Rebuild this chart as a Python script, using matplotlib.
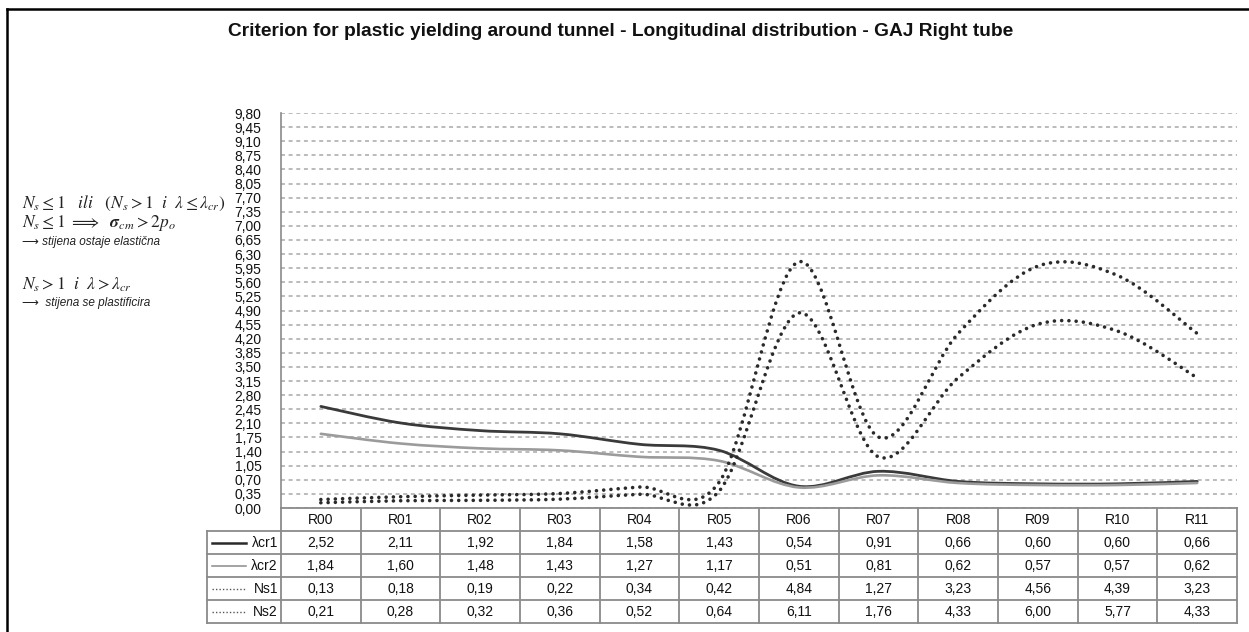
import numpy as np
import matplotlib
matplotlib.use("Agg")
import matplotlib.pyplot as plt
from matplotlib.path import Path
from matplotlib.patches import PathPatch
from matplotlib.lines import Line2D
from matplotlib.ticker import FuncFormatter

# ---- data -------------------------------------------------------------
stations = ["R00", "R01", "R02", "R03", "R04", "R05",
            "R06", "R07", "R08", "R09", "R10", "R11"]
lam_cr1 = [2.52, 2.11, 1.92, 1.84, 1.58, 1.43, 0.54, 0.91, 0.66, 0.60, 0.60, 0.66]
lam_cr2 = [1.84, 1.60, 1.48, 1.43, 1.27, 1.17, 0.51, 0.81, 0.62, 0.57, 0.57, 0.62]
ns1 = [0.13, 0.18, 0.19, 0.22, 0.34, 0.42, 4.84, 1.27, 3.23, 4.56, 4.39, 3.23]
ns2 = [0.21, 0.28, 0.32, 0.36, 0.52, 0.64, 6.11, 1.76, 4.33, 6.00, 5.77, 4.33]
series_names = ["λcr1", "λcr2", "Ns1", "Ns2"]
y_max = 9.80
y_step = 0.35
title = ("Criterion for plastic yielding around tunnel - "
         "Longitudinal distribution - GAJ Right tube")

series = [lam_cr1, lam_cr2, ns1, ns2]

# ---- styles -----------------------------------------------------------
styles = [
    dict(color="#3a3a3a", lw=2.0, ls="solid"),
    dict(color="#9b9b9b", lw=1.9, ls="solid"),
    dict(color="#2a2a2a", lw=2.6, ls=(0, (0.01, 2.0))),
    dict(color="#2a2a2a", lw=2.6, ls=(0, (0.01, 2.0))),
]
key_styles = [
    dict(color="#2a2a2a", lw=1.8, ls="solid"),
    dict(color="#8a8a8a", lw=1.1, ls="solid"),
    dict(color="#555555", lw=1.0, ls=(0, (1, 1.5))),
    dict(color="#555555", lw=1.0, ls=(0, (1, 1.5))),
]
FONT = "Liberation Sans"
GRID_GRAY = "#a8a8a8"
LINE_GRAY = "#8a8a8a"

W, H = 1249, 632
fig = plt.figure(figsize=(W / 100, H / 100), dpi=100)
fig.patch.set_facecolor("white")


def fx(x):
    return x / W


def fy(y):
    return 1 - y / H


# outer frame of the chart area
fig.add_artist(Line2D([fx(7), fx(7)], [fy(9), fy(640)], color="black", lw=1.8,
                      transform=fig.transFigure))
fig.add_artist(Line2D([fx(7), fx(1260)], [fy(9), fy(9)], color="black", lw=1.8,
                      transform=fig.transFigure))

# ---- plot area --------------------------------------------------------
PLOT_L, PLOT_R, PLOT_T, PLOT_B = 281, 1237, 113, 508
ax = fig.add_axes([fx(PLOT_L), fy(PLOT_B),
                   (PLOT_R - PLOT_L) / W, (PLOT_B - PLOT_T) / H])
n = len(stations)
ax.set_xlim(0, n)
ax.set_ylim(0, y_max)
n_ticks = int(round(y_max / y_step))
ax.set_yticks([k * y_step for k in range(n_ticks + 1)])
ax.yaxis.set_major_formatter(FuncFormatter(lambda v, p: f"{v:.2f}".replace(".", ",")))
ax.tick_params(axis="y", length=0, pad=14, labelsize=10, labelcolor="#111111")
for lbl in ax.get_yticklabels():
    lbl.set_fontfamily(FONT)
ax.set_xticks([])
ax.grid(axis="y", color=GRID_GRAY, linestyle=(0, (2.6, 2.4)), linewidth=1.1)
ax.set_axisbelow(True)
for side in ("top", "right", "bottom"):
    ax.spines[side].set_visible(False)
ax.spines["left"].set_color(LINE_GRAY)
ax.spines["left"].set_linewidth(1.2)


def smooth_path(xs, ys):
    """Cubic Bezier path through the points (Catmull-Rom style smoothing)."""
    pts = np.column_stack([xs, ys]).astype(float)
    ext = np.vstack([pts[0], pts, pts[-1]])
    verts = [pts[0]]
    codes = [Path.MOVETO]
    for i in range(len(pts) - 1):
        p0, p1, p2, p3 = ext[i], ext[i + 1], ext[i + 2], ext[i + 3]
        verts += [p1 + (p2 - p0) / 6.0, p2 - (p3 - p1) / 6.0, p2]
        codes += [Path.CURVE4] * 3
    return Path(verts, codes)


xs = np.arange(n) + 0.5
for vals, st in zip(series, styles):
    patch = PathPatch(smooth_path(xs, vals), fill=False, edgecolor=st["color"],
                      linewidth=st["lw"], linestyle=st["ls"], capstyle="round",
                      joinstyle="round", zorder=3)
    ax.add_patch(patch)

# ---- data table -------------------------------------------------------
TAB_L, TAB_B = 207, 623
tax = fig.add_axes([fx(TAB_L), fy(TAB_B),
                    (PLOT_R - TAB_L) / W, (TAB_B - PLOT_B) / H])
col_px = (PLOT_R - PLOT_L) / n
key_w = (PLOT_L - TAB_L) / col_px
n_rows = len(series) + 1
tax.set_xlim(-key_w, n)
tax.set_ylim(n_rows, 0)
tax.axis("off")

tab_kw = dict(color=LINE_GRAY, lw=1.3, clip_on=False, solid_capstyle="projecting")
tax.plot([0, n], [0, 0], **tab_kw)
for r in range(1, n_rows + 1):
    tax.plot([-key_w, n], [r, r], **tab_kw)
tax.plot([-key_w, -key_w], [1, n_rows], **tab_kw)
for c in range(n + 1):
    tax.plot([c, c], [0, n_rows], **tab_kw)

txt_kw = dict(ha="center", va="center", fontsize=10, family=FONT, color="#111111")
for i, name in enumerate(stations):
    tax.text(i + 0.5, 0.52, name, **txt_kw)
for r, vals in enumerate(series):
    for i, v in enumerate(vals):
        tax.text(i + 0.5, r + 1.52, f"{v:.2f}".replace(".", ","), **txt_kw)

for r, (name, st) in enumerate(zip(series_names, key_styles)):
    yk = r + 1.5
    x0 = (212 - PLOT_L) / col_px
    x1 = (246 - PLOT_L) / col_px
    tax.plot([x0, x1], [yk, yk], color=st["color"], lw=st["lw"], ls=st["ls"],
             clip_on=False)
    tax.text((278 - PLOT_L) / col_px, yk + 0.02, name, ha="right", va="center",
             fontsize=10, family=FONT, color="#111111")

# ---- title ------------------------------------------------------------
fig.text(fx(228), fy(31), title, ha="left", va="center", fontsize=13.8,
         fontweight="bold", family=FONT, color="#111111")

# ---- criteria notes ---------------------------------------------------
math_kw = dict(ha="left", va="center", fontsize=12.5, color="#222222",
               math_fontfamily="stix")
note_kw = dict(ha="left", va="center", fontsize=8.5, style="italic",
               family=[FONT, "DejaVu Sans"], color="#222222")
fig.text(fx(22), fy(203),
         r"$N_s \leq 1\ \ \ ili\ \ \ \left(N_s > 1\ \ i\ \ \lambda \leq \lambda_{cr}\right)$",
         **math_kw)
fig.text(fx(22), fy(223),
         r"$N_s \leq 1\ \Longrightarrow\ \ \boldsymbol{\sigma}_{cm} > 2p_o$",
         **math_kw)
fig.text(fx(22), fy(242), "⟶ stijena ostaje elastična", **note_kw)
fig.text(fx(22), fy(285),
         r"$N_s > 1\ \ i\ \ \lambda > \lambda_{cr}$", **math_kw)
fig.text(fx(22), fy(303), "⟶  stijena se plastificira", **note_kw)

fig.savefig("out.png", dpi=100, facecolor="white")
